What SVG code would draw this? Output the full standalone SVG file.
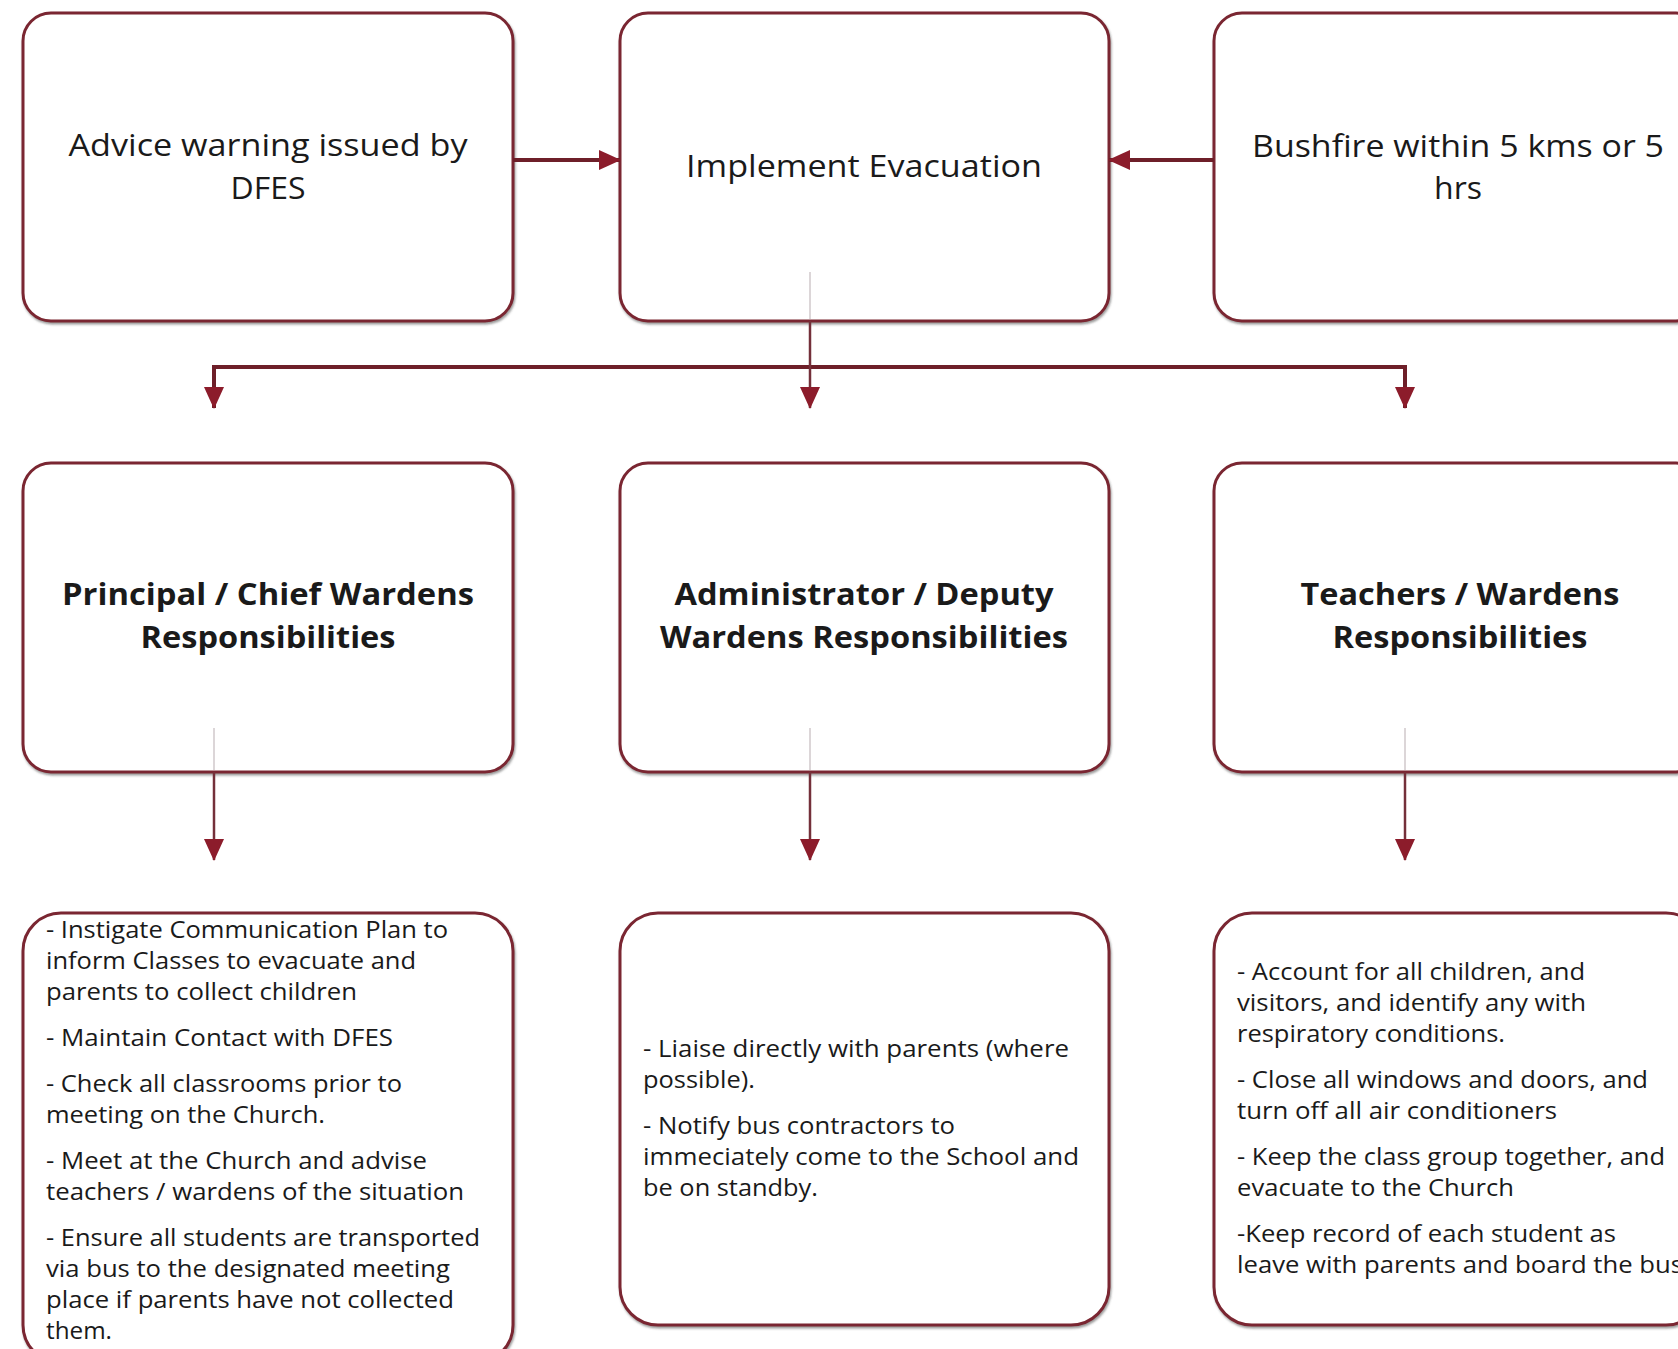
<svg xmlns="http://www.w3.org/2000/svg" width="1678" height="1349" viewBox="0 0 1678 1349">
  <defs>
    <style>
      .box { fill: #ffffff; stroke: #7a2630; stroke-width: 3; filter: url(#shadow); }
      .t1 { font-family: "Open Sans", "Liberation Sans", sans-serif; font-size: 31px; fill: #1a1a1a; text-anchor: middle; }
      .t2 { font-family: "Open Sans", "Liberation Sans", sans-serif; font-size: 30px; font-weight: bold; fill: #1a1a1a; text-anchor: middle; }
      .t3 { font-family: "Open Sans", "Liberation Sans", sans-serif; font-size: 24px; fill: #1a1a1a; }
      .conn { fill: none; stroke: #6e1f29; stroke-width: 4; }
      .drop { fill: none; stroke: #74303a; stroke-width: 2.5; }
      .stub { fill: none; stroke: #dcd6d8; stroke-width: 2; }
    </style>
    <filter id="shadow" x="-5%" y="-5%" width="110%" height="115%">
      <feDropShadow dx="1" dy="2" stdDeviation="1" flood-color="#4a4a4a" flood-opacity="0.55"/>
    </filter>
    <marker id="arrow" viewBox="0 0 22 20" refX="21" refY="10" markerWidth="22" markerHeight="20" markerUnits="userSpaceOnUse" orient="auto">
      <path d="M0,0 L22,10 L0,20 Z" fill="#8c1c2b"/>
    </marker>
  </defs>

  <!-- top row -->
  <g id="advice-warning">
    <rect class="box" x="23" y="13" width="490" height="308" rx="28"/>
    <text class="t1" x="268" y="156" textLength="399" lengthAdjust="spacingAndGlyphs">Advice warning issued by</text>
    <text class="t1" x="268" y="199" textLength="75" lengthAdjust="spacingAndGlyphs">DFES</text>
  </g>
  <g id="implement-evacuation">
    <rect class="box" x="620" y="13" width="489" height="308" rx="28"/>
    <text class="t1" x="864" y="177" textLength="356" lengthAdjust="spacingAndGlyphs">Implement Evacuation</text>
  </g>
  <g id="bushfire">
    <rect class="box" x="1214" y="13" width="490" height="308" rx="28"/>
    <text class="t1" x="1458" y="157" textLength="412" lengthAdjust="spacingAndGlyphs">Bushfire within 5 kms or 5</text>
    <text class="t1" x="1458" y="199" textLength="48" lengthAdjust="spacingAndGlyphs">hrs</text>
  </g>

  <!-- middle row: roles -->
  <g id="principal">
    <rect class="box" x="23" y="463" width="490" height="309" rx="28"/>
    <text class="t2" x="268" y="605" textLength="412" lengthAdjust="spacingAndGlyphs">Principal / Chief Wardens</text>
    <text class="t2" x="268" y="648" textLength="255" lengthAdjust="spacingAndGlyphs">Responsibilities</text>
  </g>
  <g id="administrator">
    <rect class="box" x="620" y="463" width="489" height="309" rx="28"/>
    <text class="t2" x="864" y="605" textLength="379" lengthAdjust="spacingAndGlyphs">Administrator / Deputy</text>
    <text class="t2" x="864" y="648" textLength="408" lengthAdjust="spacingAndGlyphs">Wardens Responsibilities</text>
  </g>
  <g id="teachers">
    <rect class="box" x="1214" y="463" width="490" height="309" rx="28"/>
    <text class="t2" x="1460" y="605" textLength="319" lengthAdjust="spacingAndGlyphs">Teachers / Wardens</text>
    <text class="t2" x="1460" y="648" textLength="255" lengthAdjust="spacingAndGlyphs">Responsibilities</text>
  </g>

  <!-- bottom row: task lists -->
  <g id="principal-tasks">
    <rect class="box" x="23" y="913" width="490" height="450" rx="38"/>
    <text class="t3" x="46" y="938" textLength="402" lengthAdjust="spacingAndGlyphs">- Instigate Communication Plan to</text>
    <text class="t3" x="46" y="969" textLength="370" lengthAdjust="spacingAndGlyphs">inform Classes to evacuate and</text>
    <text class="t3" x="46" y="1000" textLength="311" lengthAdjust="spacingAndGlyphs">parents to collect children</text>
    <text class="t3" x="46" y="1046" textLength="347" lengthAdjust="spacingAndGlyphs">- Maintain Contact with DFES</text>
    <text class="t3" x="46" y="1092" textLength="356" lengthAdjust="spacingAndGlyphs">- Check all classrooms prior to</text>
    <text class="t3" x="46" y="1123" textLength="279" lengthAdjust="spacingAndGlyphs">meeting on the Church.</text>
    <text class="t3" x="46" y="1169" textLength="381" lengthAdjust="spacingAndGlyphs">- Meet at the Church and advise</text>
    <text class="t3" x="46" y="1200" textLength="418" lengthAdjust="spacingAndGlyphs">teachers / wardens of the situation</text>
    <text class="t3" x="46" y="1246" textLength="434" lengthAdjust="spacingAndGlyphs">- Ensure all students are transported</text>
    <text class="t3" x="46" y="1277" textLength="404" lengthAdjust="spacingAndGlyphs">via bus to the designated meeting</text>
    <text class="t3" x="46" y="1308" textLength="408" lengthAdjust="spacingAndGlyphs">place if parents have not collected</text>
    <text class="t3" x="46" y="1339" textLength="66" lengthAdjust="spacingAndGlyphs">them.</text>
  </g>
  <g id="administrator-tasks">
    <rect class="box" x="620" y="913" width="489" height="412" rx="38"/>
    <text class="t3" x="643" y="1057" textLength="426" lengthAdjust="spacingAndGlyphs">- Liaise directly with parents (where</text>
    <text class="t3" x="643" y="1088" textLength="112" lengthAdjust="spacingAndGlyphs">possible).</text>
    <text class="t3" x="643" y="1134" textLength="312" lengthAdjust="spacingAndGlyphs">- Notify bus contractors to</text>
    <text class="t3" x="643" y="1165" textLength="436" lengthAdjust="spacingAndGlyphs">immeciately come to the School and</text>
    <text class="t3" x="643" y="1196" textLength="175" lengthAdjust="spacingAndGlyphs">be on standby.</text>
  </g>
  <g id="teachers-tasks">
    <rect class="box" x="1214" y="913" width="490" height="412" rx="38"/>
    <text class="t3" x="1237" y="980" textLength="348" lengthAdjust="spacingAndGlyphs">- Account for all children, and</text>
    <text class="t3" x="1237" y="1011" textLength="349" lengthAdjust="spacingAndGlyphs">visitors, and identify any with</text>
    <text class="t3" x="1237" y="1042" textLength="268" lengthAdjust="spacingAndGlyphs">respiratory conditions.</text>
    <text class="t3" x="1237" y="1088" textLength="411" lengthAdjust="spacingAndGlyphs">- Close all windows and doors, and</text>
    <text class="t3" x="1237" y="1119" textLength="320" lengthAdjust="spacingAndGlyphs">turn off all air conditioners</text>
    <text class="t3" x="1237" y="1165" textLength="428" lengthAdjust="spacingAndGlyphs">- Keep the class group together, and</text>
    <text class="t3" x="1237" y="1196" textLength="277" lengthAdjust="spacingAndGlyphs">evacuate to the Church</text>
    <text class="t3" x="1237" y="1242" textLength="379" lengthAdjust="spacingAndGlyphs">-Keep record of each student as</text>
    <text class="t3" x="1237" y="1273" textLength="446" lengthAdjust="spacingAndGlyphs">leave with parents and board the bus</text>
  </g>

  <!-- connectors -->
  <g id="connectors">
    <!-- faint start of each downward connector, visible inside the box -->
    <line class="stub" x1="810" y1="272" x2="810" y2="319"/>
    <line class="stub" x1="214" y1="728" x2="214" y2="770"/>
    <line class="stub" x1="810" y1="728" x2="810" y2="770"/>
    <line class="stub" x1="1405" y1="728" x2="1405" y2="770"/>

    <line class="conn" x1="513" y1="160" x2="620" y2="160" marker-end="url(#arrow)"/>
    <line class="conn" x1="1214" y1="160" x2="1109" y2="160" marker-end="url(#arrow)"/>
    <polyline class="conn" points="214,408 214,367 1405,367 1405,408"/>
    <line class="conn" x1="214" y1="390" x2="214" y2="408" marker-end="url(#arrow)"/>
    <line class="conn" x1="1405" y1="390" x2="1405" y2="408" marker-end="url(#arrow)"/>
    <line class="drop" x1="810" y1="321" x2="810" y2="408" marker-end="url(#arrow)"/>
    <line class="drop" x1="214" y1="772" x2="214" y2="860" marker-end="url(#arrow)"/>
    <line class="drop" x1="810" y1="772" x2="810" y2="860" marker-end="url(#arrow)"/>
    <line class="drop" x1="1405" y1="772" x2="1405" y2="860" marker-end="url(#arrow)"/>
  </g>
</svg>
